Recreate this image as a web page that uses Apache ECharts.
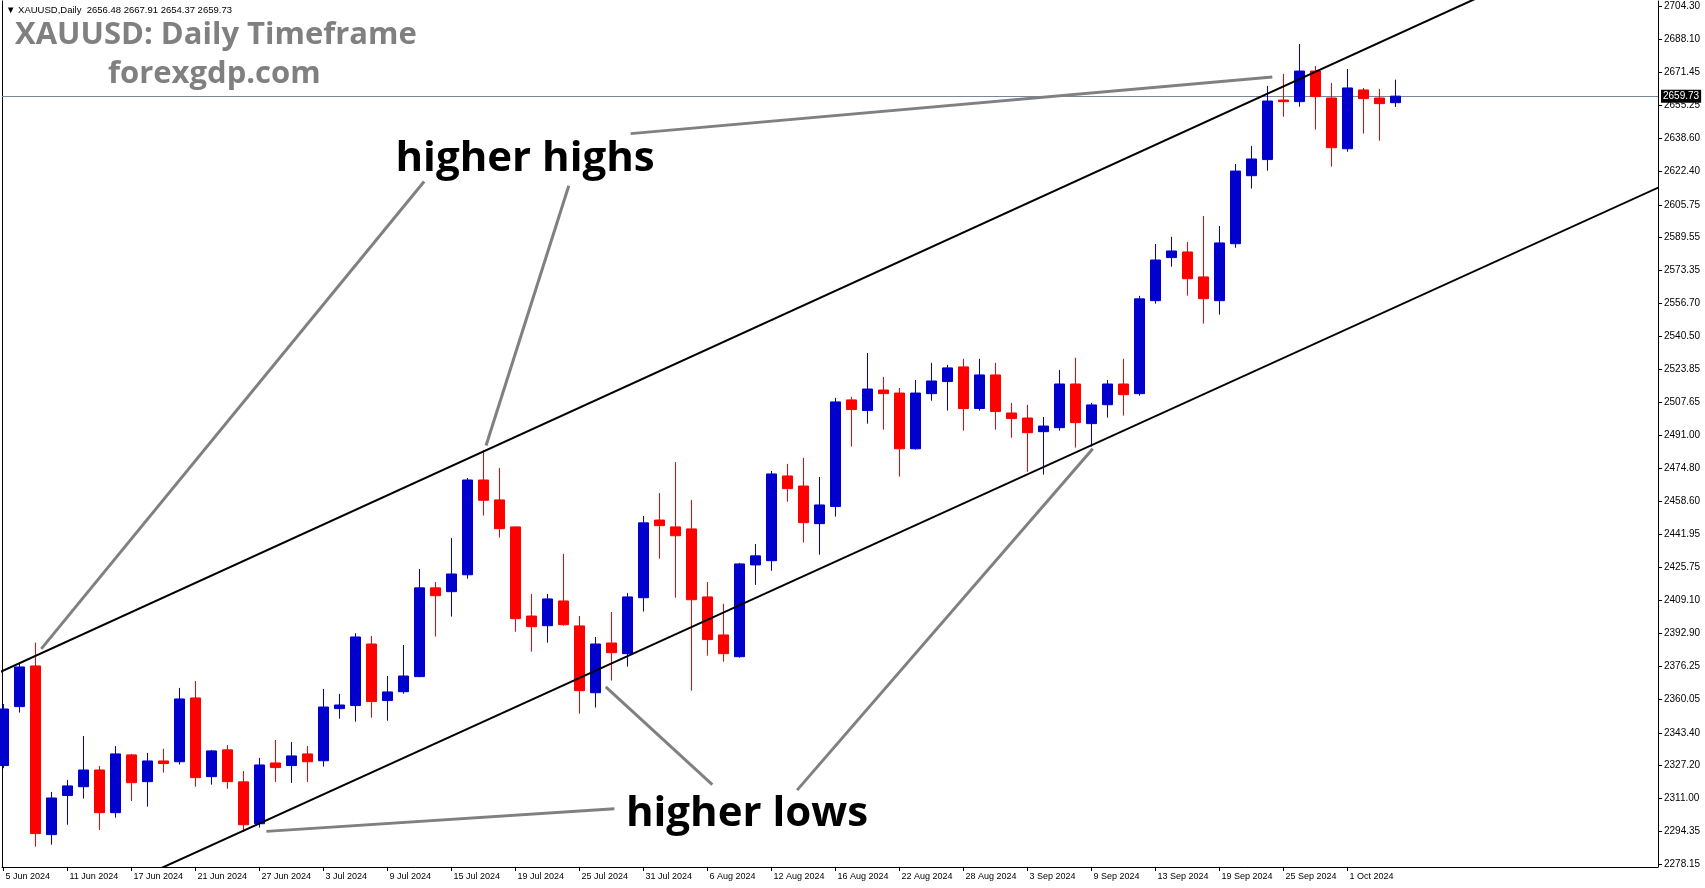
<!DOCTYPE html>
<html><head><meta charset="utf-8">
<script src="https://cdn.jsdelivr.net/npm/echarts@6/dist/echarts.min.js"></script>
<style>html,body{margin:0;padding:0;background:#fff;}#c{width:1705px;height:888px;}</style>
</head><body><div id="c"></div>
<script>
// ---- data ----
const dates = ['5 Jun 2024','6 Jun 2024','7 Jun 2024','10 Jun 2024','11 Jun 2024','12 Jun 2024','13 Jun 2024','14 Jun 2024',
'17 Jun 2024','18 Jun 2024','19 Jun 2024','20 Jun 2024','21 Jun 2024','24 Jun 2024','25 Jun 2024','26 Jun 2024',
'27 Jun 2024','28 Jun 2024','1 Jul 2024','2 Jul 2024','3 Jul 2024','4 Jul 2024','5 Jul 2024','8 Jul 2024',
'9 Jul 2024','10 Jul 2024','11 Jul 2024','12 Jul 2024','15 Jul 2024','16 Jul 2024','17 Jul 2024','18 Jul 2024',
'19 Jul 2024','22 Jul 2024','23 Jul 2024','24 Jul 2024','25 Jul 2024','26 Jul 2024','29 Jul 2024','30 Jul 2024',
'31 Jul 2024','1 Aug 2024','2 Aug 2024','5 Aug 2024','6 Aug 2024','7 Aug 2024','8 Aug 2024','9 Aug 2024',
'12 Aug 2024','13 Aug 2024','14 Aug 2024','15 Aug 2024','16 Aug 2024','19 Aug 2024','20 Aug 2024','21 Aug 2024',
'22 Aug 2024','23 Aug 2024','26 Aug 2024','27 Aug 2024','28 Aug 2024','29 Aug 2024','30 Aug 2024','2 Sep 2024',
'3 Sep 2024','4 Sep 2024','5 Sep 2024','6 Sep 2024','9 Sep 2024','10 Sep 2024','11 Sep 2024','12 Sep 2024',
'13 Sep 2024','16 Sep 2024','17 Sep 2024','18 Sep 2024','19 Sep 2024','20 Sep 2024','23 Sep 2024','24 Sep 2024',
'25 Sep 2024','26 Sep 2024','27 Sep 2024','30 Sep 2024','1 Oct 2024','2 Oct 2024','3 Oct 2024','4 Oct 2024'];

const opens = [2327.1,2356.4,2376.6,2292.8,2312.2,2316.6,2324.9,2303.7,2332.4,2319.1,2329.4,2329.0,2360.7,2321.6,2334.9,2319.0,
2298.2,2328.4,2327.1,2332.9,2329.5,2355.4,2356.9,2387.5,2359.4,2363.8,2371.3,2415.4,2413.5,2421.9,2469.0,2459.1,
2445.7,2401.4,2396.6,2408.9,2396.5,2363.3,2388.0,2382.7,2410.5,2449.1,2445.7,2444.7,2410.9,2392.0,2381.2,2426.8,
2428.9,2471.0,2466.0,2447.3,2455.8,2508.8,2503.5,2513.7,2512.2,2484.5,2511.9,2517.9,2525.2,2504.5,2521.2,2502.3,
2499.8,2493.0,2495.0,2516.7,2497.0,2506.4,2516.7,2511.9,2558.1,2579.5,2582.3,2569.9,2558.1,2586.4,2620.2,2628.2,
2657.8,2657.0,2672.2,2658.8,2633.6,2662.8,2658.8,2656.48];
const closes = [2355.2,2376.1,2293.3,2311.0,2317.0,2324.9,2303.7,2332.9,2318.6,2329.4,2328.1,2360.2,2321.1,2334.4,2319.1,2297.7,
2327.4,2326.1,2331.9,2329.0,2356.2,2357.2,2391.0,2358.9,2363.7,2371.6,2415.4,2411.5,2422.3,2469.0,2458.9,2444.8,
2400.1,2396.1,2409.9,2397.1,2364.3,2387.5,2383.2,2410.9,2447.7,2446.3,2441.3,2409.5,2389.7,2382.7,2427.3,2431.3,
2472.0,2464.7,2447.8,2456.6,2507.8,2504.0,2514.2,2511.9,2484.5,2512.2,2518.2,2524.7,2504.5,2521.2,2503.0,2499.5,
2492.5,2495.8,2516.7,2497.5,2506.3,2516.7,2511.4,2559.0,2578.3,2582.8,2569.0,2559.1,2586.8,2622.5,2628.5,2657.3,
2657.0,2672.2,2659.5,2634.1,2663.8,2658.5,2656.0,2659.73];
const highs = [2357.7,2378.2,2388.2,2314.0,2320.0,2341.8,2326.9,2336.8,2332.9,2333.4,2335.4,2365.7,2369.1,2334.9,2337.3,2324.4,
2330.9,2339.8,2338.8,2336.8,2365.2,2362.7,2392.9,2391.5,2371.6,2387.0,2424.8,2418.3,2440.2,2470.0,2483.9,2475.0,
2445.9,2412.4,2412.4,2432.3,2401.4,2391.0,2403.4,2412.9,2451.1,2462.5,2477.9,2459.1,2418.3,2407.5,2427.8,2437.2,
2473.5,2477.0,2480.0,2470.5,2509.8,2510.3,2532.1,2520.2,2514.7,2518.7,2527.2,2526.2,2529.2,2529.2,2527.2,2507.3,
2506.3,2500.3,2523.7,2529.7,2507.3,2518.7,2529.2,2560.5,2586.3,2589.8,2587.3,2600.2,2595.2,2626.0,2635.0,2664.8,
2670.8,2685.7,2674.7,2666.3,2673.2,2663.8,2663.3,2667.91];
const lows = [2325.8,2353.4,2286.8,2287.8,2297.7,2310.7,2295.1,2301.2,2309.5,2306.7,2323.6,2327.6,2316.6,2317.6,2315.6,2294.1,
2296.3,2319.0,2318.5,2319.0,2326.6,2350.4,2348.9,2350.9,2349.4,2362.8,2371.0,2391.2,2401.1,2420.0,2451.3,2440.4,
2393.6,2383.7,2388.2,2396.6,2352.9,2355.9,2369.3,2376.3,2403.6,2429.9,2410.5,2364.3,2381.7,2378.7,2380.7,2416.9,
2423.9,2458.2,2437.9,2431.9,2450.8,2485.6,2497.0,2494.0,2470.7,2484.1,2508.4,2503.5,2493.5,2503.5,2494.0,2490.0,
2473.1,2471.7,2493.5,2485.1,2485.6,2500.0,2501.0,2510.9,2556.6,2575.0,2560.6,2546.7,2551.2,2584.4,2613.8,2622.7,
2649.5,2654.5,2643.1,2624.7,2632.1,2641.1,2637.6,2654.37];

const priceTicks = [2278.15,2294.35,2311.00,2327.20,2343.40,2360.05,2376.25,2392.90,2409.10,2425.75,2441.95,2458.60,2474.80,
2491.00,2507.65,2523.85,2540.50,2556.70,2573.35,2589.55,2605.75,2622.40,2638.60,2655.25,2671.45,2688.10,2704.30];
const dateTickIdx = [0,4,8,12,16,20,24,28,32,36,40,44,48,52,56,60,64,68,72,76,80,84];
const lastPrice = 2659.73;
const headerText = '\u25BC XAUUSD,Daily  2656.48 2667.91 2654.37 2659.73';

// channel lines and annotation pointers, in (bar index, price)
const upperChannel = [[-1, 2370.7], [95, 2719.0]];
const lowerChannel = [[5, 2258.6], [105, 2620.0]];
const pointerLines = [
  [[26.29, 2617.3], [2.36, 2385.1]],
  [[35.33, 2615.2], [30.16, 2486.1]],
  [[39.2, 2641.1], [79.3, 2669.2]],
  [[16.43, 2294.4], [38.18, 2305.7]],
  [[44.3, 2317.6], [37.64, 2366.2]],
  [[49.6, 2314.9], [68.08, 2484.5]]
];
const notes = [
  {text: 'higher highs', at: [32.6, 2628.3]},
  {text: 'higher lows', at: [46.47, 2303.0]}
];

// ---- chart ----
const axisFont = "'Liberation Sans',sans-serif";
const yMin = 2276.7, yMax = 2707.0;
const chart = echarts.init(document.getElementById('c'), null, {renderer: 'canvas'});

const series = [{
  type: 'candlestick',
  data: dates.map((d, i) => [i, opens[i], closes[i], lows[i], highs[i]]),
  encode: {x: 0, y: [1, 2, 3, 4]},
  barWidth: 10,
  z: 2,
  itemStyle: {color: '#0000CD', color0: '#FF0000', borderColor: '#0000CD', borderColor0: '#FF0000', borderWidth: 1},
  markLine: {
    z: 1, silent: true, symbol: ['none', 'none'], animation: false,
    lineStyle: {color: '#778899', width: 1, type: 'solid'},
    label: {show: true, position: 'end', distance: 3, formatter: lastPrice.toFixed(2),
      backgroundColor: '#000', color: '#fff', padding: [2, 2, 1, 2], fontSize: 10, fontFamily: axisFont},
    emphasis: {disabled: true},
    data: [{yAxis: lastPrice}]
  }
}];

[upperChannel, lowerChannel].forEach(seg => series.push({
  type: 'line', data: seg, showSymbol: false, symbol: 'none', clip: true, silent: true, z: 3,
  lineStyle: {color: '#000', width: 2}
}));
pointerLines.forEach(seg => series.push({
  type: 'line', data: seg, showSymbol: false, symbol: 'none', clip: true, silent: true, z: 3,
  lineStyle: {color: '#808080', width: 3}
}));

const baseGraphics = [
  {type: 'text', left: 6, top: 5, silent: true,
    style: {text: headerText, font: "9.5px 'Liberation Sans',sans-serif", fill: '#000'}},
  {type: 'text', left: 15, top: 20, silent: true,
    style: {text: 'XAUUSD: Daily Timeframe', font: "bold 31px 'Open Sans',sans-serif", fill: '#808080'}},
  {type: 'text', left: 108, top: 59, silent: true,
    style: {text: 'forexgdp.com', font: "bold 31px 'Open Sans',sans-serif", fill: '#808080'}}
];

chart.setOption({
  animation: false,
  backgroundColor: '#fff',
  grid: {left: 2, right: 47, top: 1, bottom: 21, containLabel: false},
  xAxis: {
    type: 'value', min: -0.094, max: 103.406,
    axisLine: {show: true, onZero: false, lineStyle: {color: '#000', width: 1}},
    axisTick: {show: true, length: 4, customValues: dateTickIdx, lineStyle: {color: '#000'}},
    axisLabel: {customValues: dateTickIdx, formatter: v => dates[v] || '', align: 'left', margin: 5,
      color: '#000', fontSize: 9, fontFamily: axisFont, padding: [0, 0, 0, 2]},
    splitLine: {show: false}
  },
  yAxis: [{
    type: 'value', position: 'right', min: yMin, max: yMax,
    axisLine: {show: true, onZero: false, lineStyle: {color: '#000', width: 1}},
    axisTick: {show: true, length: 4, customValues: priceTicks, lineStyle: {color: '#000'}},
    axisLabel: {customValues: priceTicks, formatter: v => v.toFixed(2), margin: 6,
      color: '#000', fontSize: 10, fontFamily: axisFont},
    splitLine: {show: false}
  }, {
    type: 'value', position: 'left', min: yMin, max: yMax,
    axisLine: {show: true, onZero: false, lineStyle: {color: '#000', width: 1}},
    axisTick: {show: false}, axisLabel: {show: false}, splitLine: {show: false}
  }],
  graphic: baseGraphics,
  series: series
});

// annotation words, placed through the chart's own scales
const noteGraphics = notes.map(n => {
  const p = chart.convertToPixel({xAxisIndex: 0, yAxisIndex: 0}, n.at);
  return {type: 'text', x: p[0], y: p[1], silent: true, z: 10,
    style: {text: n.text, font: "bold 42px 'Open Sans',sans-serif", fill: '#000000',
      align: 'center', verticalAlign: 'middle'}};
});
chart.setOption({graphic: baseGraphics.concat(noteGraphics)});
</script></body></html>
